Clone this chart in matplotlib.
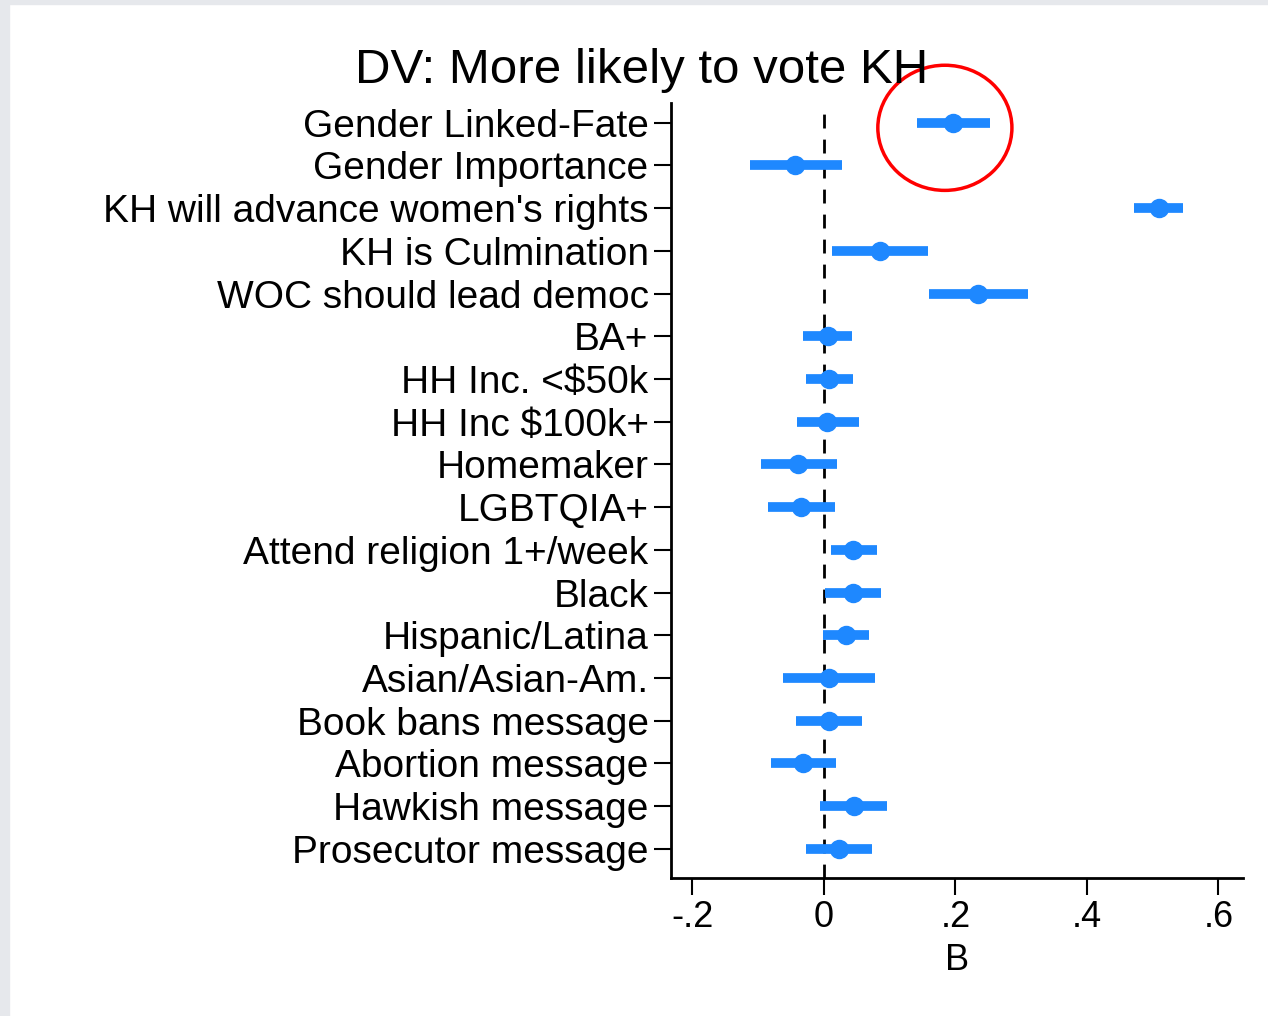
import matplotlib
matplotlib.use("Agg")
import matplotlib.pyplot as plt
from matplotlib.patches import Ellipse, Rectangle

plt.rcParams['font.family'] = ['Liberation Sans', 'DejaVu Sans']

# coefficient estimates and 95% CIs, top to bottom
labels = ["Gender Linked-Fate", "Gender Importance", "KH will advance women's rights",
          "KH is Culmination", "WOC should lead democ", "BA+", "HH Inc. <$50k",
          "HH Inc $100k+", "Homemaker", "LGBTQIA+", "Attend religion 1+/week", "Black",
          "Hispanic/Latina", "Asian/Asian-Am.", "Book bans message", "Abortion message",
          "Hawkish message", "Prosecutor message"]
coef = [0.197, -0.044, 0.509, 0.086, 0.235, 0.006, 0.008, 0.005, -0.039, -0.035,
        0.044, 0.044, 0.033, 0.007, 0.007, -0.032, 0.045, 0.023]
lo = [0.141, -0.113, 0.471, 0.013, 0.160, -0.032, -0.028, -0.041, -0.095, -0.085,
      0.010, 0.001, -0.001, -0.063, -0.043, -0.081, -0.006, -0.028]
hi = [0.252, 0.028, 0.547, 0.158, 0.311, 0.043, 0.044, 0.053, 0.020, 0.017,
      0.080, 0.087, 0.069, 0.078, 0.058, 0.019, 0.096, 0.073]
xticks = [-0.2, 0, 0.2, 0.4, 0.6]
xticklabels = ["-.2", "0", ".2", ".4", ".6"]

fig = plt.figure(figsize=(12.68, 10.16), dpi=100)
# light grey screenshot edge
fig.patches.append(Rectangle((0, 0), 9 / 1268, 1, transform=fig.transFigure,
                             color="#e6e8ec", zorder=-1))
fig.patches.append(Rectangle((0, 1 - 4 / 1016), 1, 4 / 1016, transform=fig.transFigure,
                             color="#e6e8ec", zorder=-1))

ax = fig.add_axes([0.529, 0.136, 0.451, 0.763])
ypos = list(range(1, len(labels) + 1))
blue = "#1e88ff"

ax.axvline(0, color="black", lw=2, ls=(0, (5, 4)), zorder=1)
ax.hlines(ypos, lo, hi, color=blue, lw=7, zorder=2)
ax.plot(coef, ypos, "o", color=blue, ms=13, zorder=3)

ax.set_ylim(len(labels) + 0.68, 0.53)
ax.set_xlim(-0.233, 0.637)
ax.set_yticks(ypos)
ax.set_yticklabels(labels, fontsize=28)
ax.set_xticks(xticks)
ax.set_xticklabels(xticklabels, fontsize=26)
ax.set_xlabel("B", fontsize=26, labelpad=6)
ax.tick_params(length=12, width=1.5, pad=4)
ax.spines["top"].set_visible(False)
ax.spines["right"].set_visible(False)
ax.spines["left"].set_linewidth(2)
ax.spines["bottom"].set_linewidth(2)

fig.text(0.506, 0.931, "DV: More likely to vote KH", fontsize=35.5, ha="center", va="center")

# red highlight circle
ax.add_patch(Ellipse((0.184, 1.12), 0.204, 2.93, fill=False, ec="red", lw=2.5,
                     clip_on=False, zorder=4))

fig.savefig("out.png", dpi=100)
